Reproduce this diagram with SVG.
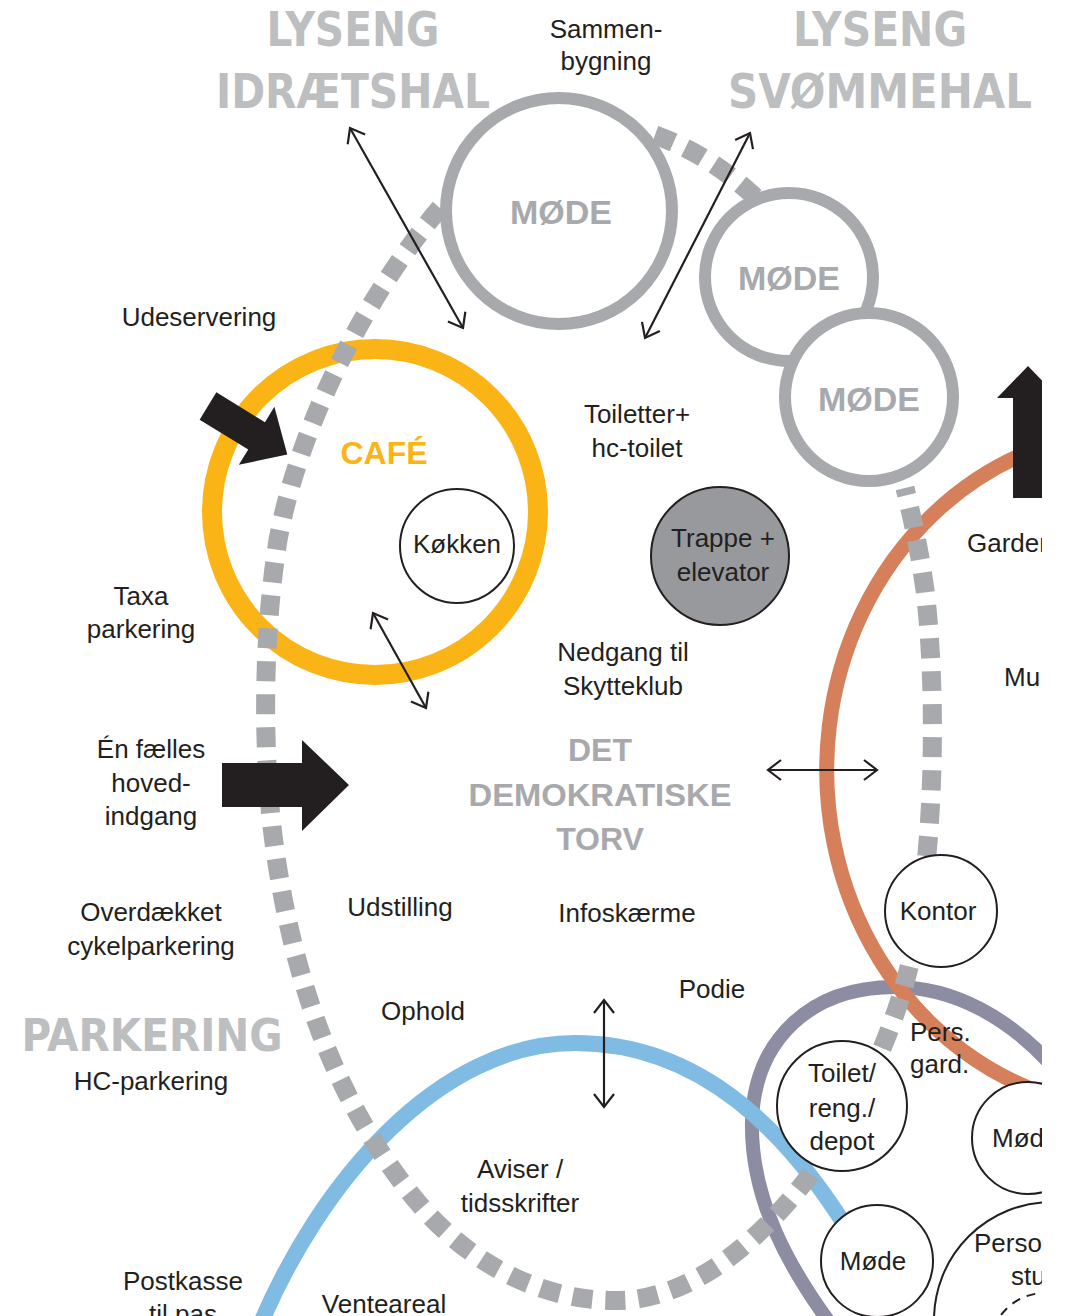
<svg xmlns="http://www.w3.org/2000/svg" width="1065" height="1316" viewBox="0 0 1065 1316">
<style>
.t{font-family:"Liberation Sans",Arial,sans-serif;font-size:26px;fill:#231f20;text-anchor:middle}
.tl{font-family:"Liberation Sans",Arial,sans-serif;font-size:26px;fill:#231f20}
.title{font-family:"Liberation Sans Narrow","DejaVu Sans Condensed","Liberation Sans",sans-serif;font-weight:bold;fill:#bcbec0;text-anchor:middle;font-size:48px}
.mode{font-family:"Liberation Sans",Arial,sans-serif;font-weight:bold;fill:#a7a9ac;text-anchor:middle;font-size:34px}
.ring{fill:#fff;stroke:#a7a9ac;stroke-width:12}
.room{fill:#fff;stroke:#231f20;stroke-width:2}
.dash{fill:none;stroke:#a7a9ac;stroke-width:19;stroke-dasharray:20 13}
.dbl{fill:none;stroke:#231f20;stroke-width:2.2;marker-start:url(#ah);marker-end:url(#ah)}
</style>
<defs>
<marker id="ah" viewBox="-16 -12 18 24" markerWidth="18" markerHeight="24" refX="0" refY="0" orient="auto-start-reverse" markerUnits="userSpaceOnUse">
<path d="M-13,-10 L0,0 L-13,10" fill="none" stroke="#231f20" stroke-width="2.2"/>
</marker>
<clipPath id="clip"><rect x="0" y="0" width="1042" height="1316"/></clipPath>
</defs>
<rect width="1065" height="1316" fill="#fff"/>
<g clip-path="url(#clip)">
<g id="zones">
<path id="personale-zone" d="M 1060 1075 C 1010 1015, 950 987, 895 987 C 810 987, 755 1040, 752 1120 C 750 1200, 790 1270, 835 1330" fill="none" stroke="#8c8ca3" stroke-width="14"/>
<path id="garderobe-zone" d="M 1140 430 A 312 340 0 0 0 1060 1099" fill="none" stroke="#d5805a" stroke-width="15"/>
<path id="venteareal-zone" d="M 258 1330 C 320 1180, 440 1043, 575 1043 C 700 1043, 790 1130, 860 1250" fill="none" stroke="#7fbbe3" stroke-width="16"/>
<circle id="cafe-ring" cx="375" cy="512" r="163" fill="none" stroke="#fbb416" stroke-width="20"/>
</g>
<g id="connectors">
<path class="dash" d="M 440 208 C 370 290, 300 420, 278 540 C 262 640, 262 760, 275 850 C 295 990, 340 1110, 420 1205 C 480 1275, 560 1305, 630 1300 C 700 1292, 760 1240, 810 1175 C 860 1110, 900 1020, 915 940 C 935 840, 937 690, 925 590 C 918 540, 910 510, 905 488"/>
<path class="dash" d="M 655 135 Q 710 155 755 197"/>
<polygon id="cafe-entry" points="0,-16 57,-16 57,-34 93,0 57,34 57,16 0,16" fill="#231f20" transform="translate(208,406) rotate(31.5)"/>
<polygon id="main-entry" points="222,763 302,763 302,740 349,785 302,831 302,807 222,807" fill="#231f20"/>
<polygon id="up-arrow" points="1013,498 1013,398 997,398 1028,366 1059,398 1043,398 1043,498" fill="#231f20"/>
<line class="dbl" x1="350" y1="128" x2="463" y2="328"/>
<line class="dbl" x1="750" y1="133" x2="645" y2="338"/>
<line class="dbl" x1="373" y1="613" x2="426" y2="708"/>
<line class="dbl" x1="768" y1="770" x2="877" y2="770"/>
<line class="dbl" x1="604" y1="1000" x2="604" y2="1107"/>
</g>
<g id="mode1"><circle class="ring" cx="559" cy="211" r="113"/><text class="mode" x="561" y="224">MØDE</text></g>
<g id="mode2"><circle class="ring" cx="789" cy="277" r="84"/><text class="mode" x="789" y="290">MØDE</text></g>
<g id="mode3"><circle class="ring" cx="869" cy="397" r="84"/><text class="mode" x="869" y="411">MØDE</text></g>
<g id="kokken"><circle class="room" cx="457" cy="546" r="57"/><text class="t" x="457" y="553">Køkken</text></g>
<g id="trappe"><circle cx="720" cy="556" r="69" fill="#97999c" stroke="#231f20" stroke-width="2"/><text class="t" x="723" y="547">Trappe +</text><text class="t" x="723" y="581">elevator</text></g>
<g id="kontor"><circle class="room" cx="941" cy="911" r="56"/><text class="t" x="938" y="920">Kontor</text></g>
<g id="toilet"><circle class="room" cx="842" cy="1106" r="65"/><text class="t" x="842" y="1082">Toilet/</text><text class="t" x="842" y="1117">reng./</text><text class="t" x="842" y="1150">depot</text></g>
<g id="mode-small"><circle class="room" cx="877" cy="1261" r="56"/><text class="t" x="873" y="1270">Møde</text></g>
<g id="mode-right"><circle class="room" cx="1028" cy="1138" r="56"/><text class="tl" x="992" y="1147">Mød</text></g>
<g id="personale"><circle class="room" cx="1052" cy="1320" r="118"/><circle cx="1045" cy="1348" r="55" fill="none" stroke="#231f20" stroke-width="2" stroke-dasharray="9 7"/><text class="tl" x="974" y="1252">Person</text><text class="tl" x="1011" y="1285">stu</text></g>
<g id="labels">
<text class="title" x="353" y="46" textLength="173" lengthAdjust="spacingAndGlyphs">LYSENG</text>
<text class="title" x="353" y="108" textLength="274" lengthAdjust="spacingAndGlyphs">IDRÆTSHAL</text>
<text class="title" x="880" y="46" textLength="174" lengthAdjust="spacingAndGlyphs">LYSENG</text>
<text class="title" x="880" y="108" textLength="304" lengthAdjust="spacingAndGlyphs">SVØMMEHAL</text>
<text class="t" x="606" y="38">Sammen-</text>
<text class="t" x="606" y="70">bygning</text>
<text class="t" x="199" y="326">Udeservering</text>
<text x="384" y="464" style="font-family:'Liberation Sans',Arial,sans-serif;font-weight:bold;font-size:32px;fill:#fbb416;text-anchor:middle">CAFÉ</text>
<text class="t" x="637" y="423">Toiletter+</text>
<text class="t" x="637" y="457">hc-toilet</text>
<text class="t" x="141" y="605">Taxa</text>
<text class="t" x="141" y="638">parkering</text>
<text class="t" x="623" y="661">Nedgang til</text>
<text class="t" x="623" y="695">Skytteklub</text>
<text class="t" x="151" y="758">Én fælles</text>
<text class="t" x="151" y="792">hoved-</text>
<text class="t" x="151" y="825">indgang</text>
<text class="mode" x="600" y="761" style="font-size:32px">DET</text>
<text class="mode" x="600" y="806" style="font-size:32px" textLength="263" lengthAdjust="spacingAndGlyphs">DEMOKRATISKE</text>
<text class="mode" x="600" y="850" style="font-size:32px">TORV</text>
<text class="t" x="151" y="921">Overdækket</text>
<text class="t" x="151" y="955">cykelparkering</text>
<text class="t" x="400" y="916">Udstilling</text>
<text class="t" x="627" y="922">Infoskærme</text>
<text class="t" x="712" y="998">Podie</text>
<text class="title" x="152" y="1051" style="font-size:44px" textLength="261" lengthAdjust="spacingAndGlyphs">PARKERING</text>
<text class="t" x="423" y="1020">Ophold</text>
<text class="t" x="151" y="1090">HC-parkering</text>
<text class="tl" x="910" y="1041">Pers.</text>
<text class="tl" x="910" y="1073">gard.</text>
<text class="t" x="520" y="1178">Aviser /</text>
<text class="t" x="520" y="1212">tidsskrifter</text>
<text class="t" x="183" y="1290">Postkasse</text>
<text class="t" x="183" y="1323">til pas</text>
<text class="t" x="384" y="1313">Venteareal</text>
<text class="tl" x="967" y="552">Garder</text>
<text class="tl" x="1004" y="686">Mu</text>
</g>
</g>
</svg>
